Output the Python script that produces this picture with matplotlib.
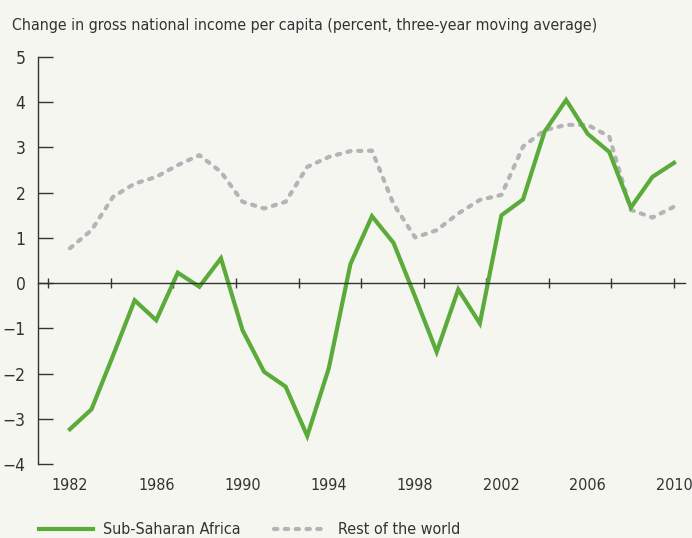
import matplotlib
matplotlib.use("Agg")
import matplotlib.pyplot as plt
import numpy as np

# GNI per capita change, three-year moving average (percent)
years = list(range(1982, 2011))
ssa = [-3.23, -2.79, -1.6, -0.38, -0.82, 0.23, -0.08, 0.55, -1.04, -1.96,
       -2.29, -3.38, -1.88, 0.42, 1.48, 0.89, -0.3, -1.52, -0.14, -0.89,
       1.50, 1.85, 3.35, 4.05, 3.30, 2.90, 1.67, 2.35, 2.66]
rest = [0.77, 1.17, 1.91, 2.2, 2.35, 2.61, 2.83, 2.46, 1.80, 1.65,
        1.80, 2.57, 2.79, 2.92, 2.93, 1.75, 1.01, 1.17, 1.54, 1.84,
        1.95, 3.02, 3.38, 3.50, 3.50, 3.24, 1.62, 1.45, 1.69]
year_labels = list(range(1982, 2011, 4))
y_ticks = list(range(-4, 6))

GREEN = "#5bab3a"
GREY = "#b3b3b8"
BG = "#f6f6f1"
DARK = "#333333"

plt.rcParams["font.family"] = ["DejaVu Sans"]
plt.rcParams["font.stretch"] = "condensed"

fig = plt.figure(figsize=(6.92, 5.38), dpi=100, facecolor=BG)
ax = fig.add_axes([0.0549, 0.1375, 0.935, 0.7565], facecolor=BG)

ax.plot(years, rest, color=GREY, lw=3, dashes=(0.8, 1.8),
        dash_capstyle="round", solid_joinstyle="round", label="Rest of the world")
ax.plot(years, ssa, color=GREEN, lw=3, solid_joinstyle="miter",
        label="Sub-Saharan Africa")

ax.set_xlim(1980.52, 2010.51)
ax.set_ylim(-4, 5)

for s in ["top", "right"]:
    ax.spines[s].set_visible(False)
ax.spines["left"].set_color(DARK)
ax.spines["left"].set_linewidth(1)
ax.spines["bottom"].set_position(("data", 0))
ax.spines["bottom"].set_color(DARK)
ax.spines["bottom"].set_linewidth(1)

ax.set_yticks(y_ticks)
ax.set_yticklabels([str(v).replace("-", "\u2212") for v in y_ticks])
ax.tick_params(axis="y", direction="in", length=11, width=1, color=DARK,
               pad=9, labelsize=12.5, labelcolor=DARK)

# the little ticks on the zero line
ax.set_xticks(np.linspace(1981, 2010, 11))
ax.tick_params(axis="x", direction="inout", length=7, width=1, color=DARK,
               labelbottom=False)

sec = ax.secondary_xaxis(0)
sec.set_xticks(year_labels)
sec.set_xticklabels([str(y) for y in year_labels])
sec.tick_params(length=0, pad=10, labelsize=11.5, labelcolor=DARK)
sec.spines["bottom"].set_visible(False)

fig.text(0.017, 0.953, "Change in gross national income per capita (percent, three-year moving average)",
         fontsize=11.4, color=DARK, va="center", ha="left")

handles, labels = ax.get_legend_handles_labels()
leg = fig.legend(handles[::-1], labels[::-1], loc="center left",
                 bbox_to_anchor=(0.0473, 0.015), ncol=2, frameon=False,
                 fontsize=11.5, handlelength=3.4, handletextpad=0.6,
                 columnspacing=2.1, labelcolor=DARK, borderaxespad=0)

fig.savefig("out.png", dpi=100, facecolor=BG)
